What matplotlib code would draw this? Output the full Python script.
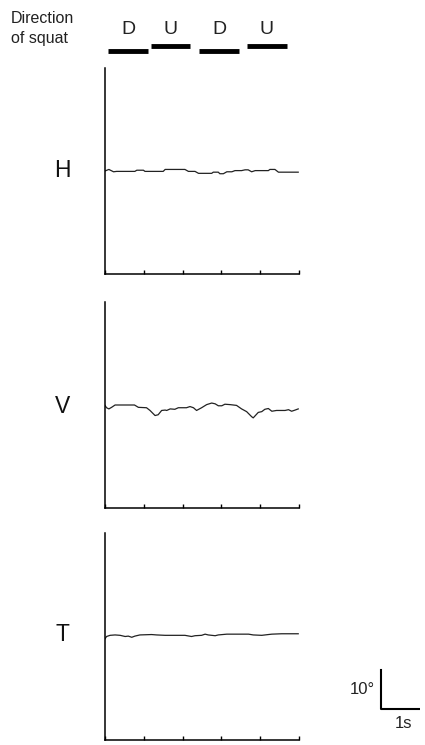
import matplotlib
matplotlib.use("Agg")
import matplotlib.pyplot as plt
import numpy as np

plt.rcParams['font.family'] = ['Liberation Sans', 'DejaVu Sans']

# ---- data (time in s, angle in degrees, relative to baseline) ----
panel_labels = ["H", "V", "T"]

h_t = [0.0, 0.10, 0.22, 0.30, 0.77, 0.82, 0.99, 1.03, 1.50, 1.55, 1.68, 2.06, 2.15, 2.32,
       2.41, 2.75, 2.79, 2.92, 2.96, 3.05, 3.14, 3.27, 3.35, 3.52, 3.61, 3.69, 3.78, 3.87,
       4.21, 4.25, 4.38, 4.47, 4.98]
h_v = [-0.1, 0.3, -0.3, -0.2, -0.2, 0.1, 0.1, -0.2, -0.2, 0.3, 0.3, 0.3, -0.2, -0.2,
       -0.7, -0.7, -0.4, -0.4, -0.8, -0.8, -0.3, -0.3, 0.0, 0.0, 0.2, 0.2, -0.3, 0.0,
       0.0, 0.3, 0.3, -0.4, -0.4]

v_t = [0.0, 0.04, 0.10, 0.17, 0.26, 0.76, 0.86, 1.07, 1.16, 1.29, 1.37, 1.46, 1.55, 1.59,
       1.68, 1.80, 1.89, 2.10, 2.19, 2.28, 2.36, 2.49, 2.62, 2.75, 2.84, 2.92, 3.01, 3.09,
       3.22, 3.39, 3.52, 3.65, 3.78, 3.82, 3.95, 4.04, 4.12, 4.21, 4.30, 4.42, 4.64, 4.73,
       4.81, 4.90, 4.98]
v_v = [0.3, -0.3, -0.6, -0.2, 0.4, 0.4, -0.2, -0.3, -1.0, -2.3, -2.1, -1.0, -0.9, -1.0,
       -0.6, -0.7, -0.3, -0.3, 0.0, -0.3, -1.0, -0.3, 0.5, 0.9, 0.7, 0.2, 0.2, 0.6,
       0.5, 0.3, -0.6, -1.3, -2.6, -2.9, -1.5, -1.3, -0.7, -0.5, -1.2, -1.0, -1.0, -0.8,
       -1.2, -0.9, -0.6]

t_t = [0.0, 0.04, 0.13, 0.26, 0.39, 0.52, 0.60, 0.69, 0.77, 0.90, 1.20, 1.33, 1.55, 2.06,
       2.23, 2.32, 2.49, 2.58, 2.66, 2.75, 2.84, 2.92, 3.14, 3.44, 3.70, 3.82, 4.04, 4.21,
       4.30, 4.55, 4.98]
t_v = [-1.1, -0.5, -0.2, -0.1, -0.2, -0.5, -0.4, -0.7, -0.4, -0.1, 0.0, -0.1, -0.2, -0.2,
       -0.5, -0.3, -0.2, 0.1, -0.1, -0.2, -0.3, -0.1, 0.1, 0.1, 0.1, -0.1, -0.2, 0.0,
       0.1, 0.2, 0.2]

traces = [(h_t, h_v), (v_t, v_v), (t_t, t_v)]

# squat direction phases (start, end in s)
phase_labels = ["D", "U", "D", "U"]
phase_start = [0.08, 1.18, 2.43, 3.66]
phase_end = [1.11, 2.19, 3.45, 4.69]
phase_level = [0, 1, 0, 1]

x_ticks = [0, 1, 2, 3, 4, 5]

# ---- figure ----
fig = plt.figure(figsize=(4.25, 7.45), dpi=100)
W, H = 425, 745
left_px, right_px = 105, 299
panels_px = [(68, 274), (302, 508), (533, 740)]
ylims = [(-26.5, 26.3), (-26.0, 26.8), (-27.0, 26.0)]

for (top, bot), lab, (tt, vv), yl in zip(panels_px, panel_labels, traces, ylims):
    ax = fig.add_axes([left_px / W, 1 - bot / H, (right_px - left_px) / W, (bot - top) / H])
    ax.plot(tt, vv, color='#222222', lw=0.9)
    ax.set_xlim(0, 5)
    ax.set_ylim(*yl)
    for s in ['top', 'right']:
        ax.spines[s].set_visible(False)
    ax.spines['left'].set_linewidth(1.1)
    ax.spines['bottom'].set_linewidth(1.1)
    ax.set_xticks(x_ticks)
    ax.set_xticklabels([])
    ax.set_yticks([])
    ax.tick_params(axis='x', direction='in', length=3, width=1)
    ax.text(-1.1, 0, lab, fontsize=16.5, ha='center', va='center', transform=ax.transData,
            color='#111111')

# header
fig.text(11 / W, 1 - 11 / H, "Direction\nof squat", fontsize=11.5, ha='left', va='top',
         linespacing=1.45, color='#222222')

# phase bars aligned with time axis
hdr = fig.add_axes([left_px / W, 1 - 60 / H, (right_px - left_px) / W, 45 / H])
hdr.set_xlim(0, 5)
hdr.set_ylim(0, 45)
hdr.axis('off')
for lab, s, e, lvl in zip(phase_labels, phase_start, phase_end, phase_level):
    yb = 9 + 5 * lvl
    hdr.plot([s, e], [yb, yb], color='black', lw=3.5, solid_capstyle='butt')
    hdr.text((s + e) / 2, 30, lab, fontsize=14, ha='center', va='center', color='#222222')

# scale bar (10 deg, 1 s)
ax_sb = fig.add_axes([370 / W, 1 - 740 / H, 50 / W, 80 / H])
ax_sb.axis('off')
ax_sb.plot([381, 381, 419], [670, 709, 709], color='black', lw=1.5)
ax_sb.set_xlim(370, 420)
ax_sb.set_ylim(740, 660)
fig.text(362 / W, 1 - 689 / H, "10°", fontsize=12, ha='center', va='center', color='#222222')
fig.text(403 / W, 1 - 723 / H, "1s", fontsize=12, ha='center', va='center', color='#222222')

fig.savefig("out.png", dpi=100)
